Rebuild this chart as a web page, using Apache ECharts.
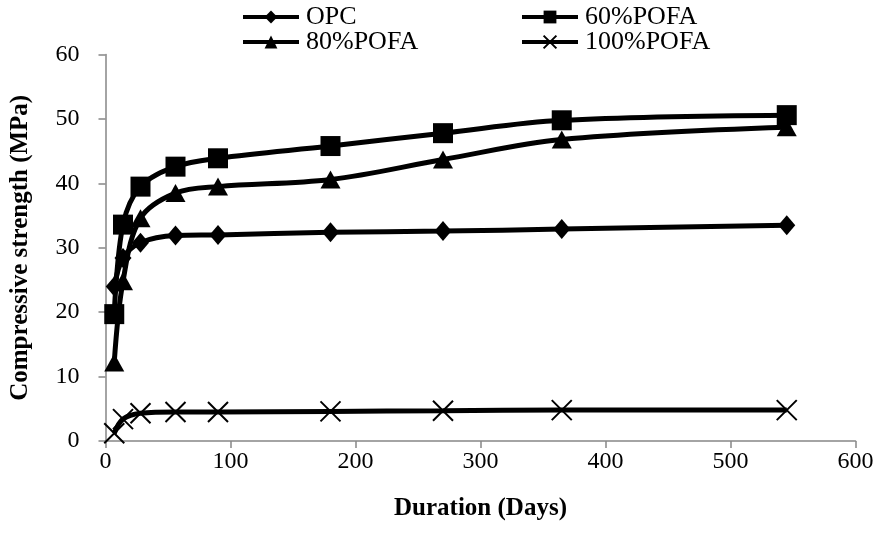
<!DOCTYPE html>
<html>
<head>
<meta charset="utf-8">
<script src="https://cdn.jsdelivr.net/npm/echarts@6/dist/echarts.min.js"></script>
<style>
html,body{margin:0;padding:0;background:#fff;}
#chart{width:880px;height:549px;}
</style>
</head>
<body>
<div id="chart"></div>
<script>
const days = [7, 14, 28, 56, 90, 180, 270, 365, 545];
const opc = [24.0, 28.4, 30.8, 31.9, 32.0, 32.4, 32.6, 32.9, 33.5];
const pofa60 = [19.7, 33.6, 39.5, 42.6, 43.9, 45.8, 47.8, 49.8, 50.6];
const pofa80 = [12.2, 24.8, 34.6, 38.5, 39.5, 40.6, 43.7, 46.8, 48.7];
const pofa100 = [1.2, 3.4, 4.3, 4.5, 4.5, 4.6, 4.7, 4.8, 4.8];
const seriesNames = ['OPC', '60%POFA', '80%POFA', '100%POFA'];
const xTicks = [0, 100, 200, 300, 400, 500, 600];
const yTicks = [0, 10, 20, 30, 40, 50, 60];

const FONT = '"Liberation Serif", "Times New Roman", serif';
const pair = arr => days.map((d, i) => [d, arr[i]]);
const crossPath = 'path://M0,0L20,20M20,0L0,20';

function mkSeries(name, data, symbol, size, extraItem) {
  return {
    name: name,
    type: 'line',
    data: pair(data),
    smooth: 0.35,
    symbol: symbol,
    symbolSize: size,
    showAllSymbol: true,
    lineStyle: { color: '#000', width: 5 },
    itemStyle: Object.assign({ color: '#000', borderWidth: 0 }, extraItem || {}),
    emphasis: { disabled: true },
    z: 2
  };
}

function mkLegend(name, left, top) {
  return {
    data: [name],
    left: left,
    top: top,
    padding: 0,
    itemWidth: 56,
    itemHeight: 16,
    selectedMode: false,
    lineStyle: { width: 4, color: '#000' },
    textStyle: { fontFamily: FONT, fontSize: 26, color: '#000', padding: [0, 0, 0, 2] }
  };
}

const chart = echarts.init(document.getElementById('chart'), null, { renderer: 'canvas' });
chart.setOption({
  animation: false,
  backgroundColor: '#fff',
  grid: { left: 105.5, right: 24.5, top: 54.6, bottom: 108, containLabel: false },
  legend: [
    mkLegend(seriesNames[0], 241, 4),
    mkLegend(seriesNames[1], 520, 4),
    mkLegend(seriesNames[2], 241, 29),
    mkLegend(seriesNames[3], 520, 29)
  ],
  xAxis: {
    type: 'value',
    min: xTicks[0],
    max: xTicks[xTicks.length - 1],
    interval: 100,
    name: 'Duration (Days)',
    nameLocation: 'middle',
    nameGap: 55,
    nameTextStyle: { fontFamily: FONT, fontSize: 25, fontWeight: 'bold', color: '#000' },
    axisLine: { show: true, lineStyle: { color: '#868686', width: 1.5 } },
    axisTick: { show: true, length: 7, lineStyle: { color: '#868686', width: 1.5 } },
    axisLabel: { fontFamily: FONT, fontSize: 24, color: '#000', margin: 9 },
    splitLine: { show: false }
  },
  yAxis: {
    type: 'value',
    min: yTicks[0],
    max: yTicks[yTicks.length - 1],
    interval: 10,
    name: 'Compressive strength (MPa)',
    nameLocation: 'middle',
    nameGap: 72,
    nameRotate: 90,
    nameTextStyle: { fontFamily: FONT, fontSize: 25, fontWeight: 'bold', color: '#000' },
    axisLine: { show: true, lineStyle: { color: '#868686', width: 1.5 } },
    axisTick: { show: true, length: 7, lineStyle: { color: '#868686', width: 1.5 } },
    axisLabel: { fontFamily: FONT, fontSize: 24, color: '#000', margin: 26 },
    splitLine: { show: false }
  },
  series: [
    mkSeries(seriesNames[0], opc, 'diamond', [17, 20]),
    mkSeries(seriesNames[1], pofa60, 'rect', [20, 20]),
    mkSeries(seriesNames[2], pofa80, 'triangle', [20, 18]),
    mkSeries(seriesNames[3], pofa100, crossPath, [20, 20], { color: 'none', borderColor: '#000', borderWidth: 2 })
  ]
});
</script>
</body>
</html>
